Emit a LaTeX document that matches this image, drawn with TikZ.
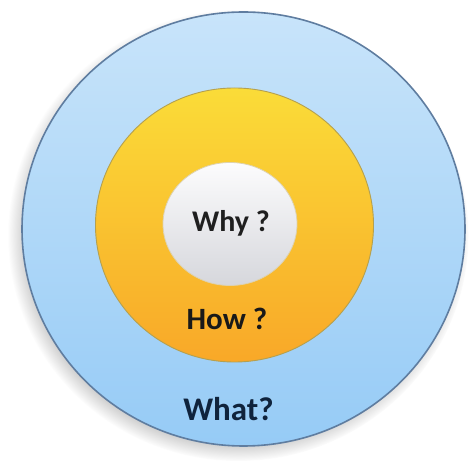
\documentclass[tikz,border=0pt]{standalone}
\usepackage{fontspec}
\setmainfont{Carlito}
\usepackage{tikz}
\usetikzlibrary{shapes.geometric,shadows}
\definecolor{whatTop}{RGB}{200,228,250}
\definecolor{whatBot}{RGB}{150,203,246}
\definecolor{whatRim}{RGB}{95,125,160}
\definecolor{howTop}{RGB}{250,220,56}
\definecolor{howBot}{RGB}{249,168,40}
\definecolor{howRim}{RGB}{180,160,80}
\definecolor{whyTop}{RGB}{252,252,253}
\definecolor{whyBot}{RGB}{214,215,220}
\definecolor{whyRim}{RGB}{200,180,120}
\definecolor{navy}{RGB}{15,35,60}

\begin{document}
\begin{tikzpicture}[
  x=1pt, y=1pt,
  ring/.style={ellipse, inner sep=0pt},
  outerring/.style={ring, minimum width=443pt, minimum height=434pt,
    top color=whatTop, bottom color=whatBot, draw=whatRim, line width=1.6pt,
    circular drop shadow={shadow xshift=-5pt, shadow yshift=-6pt, shadow scale=1.04, opacity=0.75}},
  midring/.style={ring, minimum width=278pt, minimum height=274pt,
    top color=howTop, bottom color=howBot, draw=howRim, line width=0.9pt},
  corering/.style={ring, minimum width=134pt, minimum height=123pt,
    top color=whyTop, bottom color=whyBot, draw=whyRim!60!white, line width=0.8pt},
  lbl/.style={anchor=base, font=\bfseries}
]
\useasboundingbox (0,0) rectangle (473,460);
% the three circles
\node[outerring] (what) at (243.5,231) {};
\node[midring] (how) at (234.5,235) {};
\node[corering] (why) at (230,236) {};
% labels
\node[lbl, font=\fontsize{30}{30}\selectfont\bfseries, text=black!88] (whytext) at (231,228) {Why ?};
\node[lbl, font=\fontsize{31}{31}\selectfont\bfseries, text=black!90] (howtext) at (227,130) {How ?};
\node[lbl, font=\fontsize{33}{33}\selectfont\bfseries, text=navy] (whattext) at (228.5,40) {What?};
\end{tikzpicture}
\end{document}
